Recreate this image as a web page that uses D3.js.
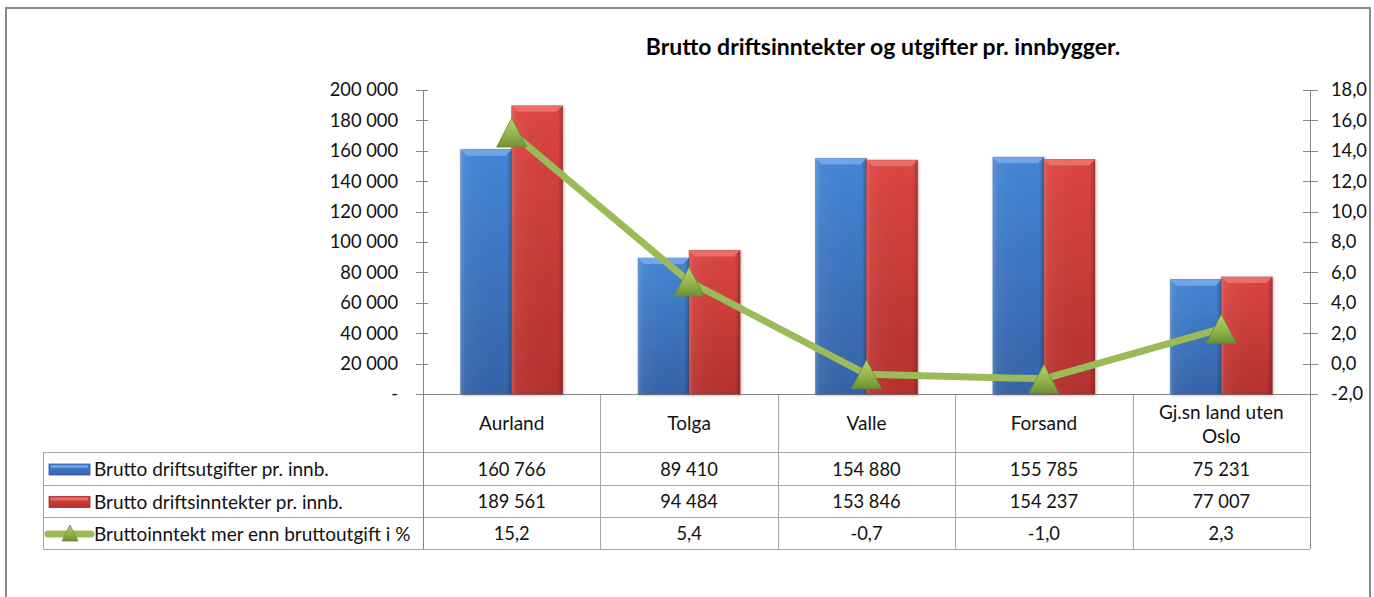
<!DOCTYPE html>
<html><head><meta charset="utf-8">
<script src="https://cdn.jsdelivr.net/npm/d3@7"></script>
<style>
html,body{margin:0;padding:0;background:#fff;}
svg{display:block;}
text{font-family:Lato,"Open Sans",sans-serif;fill:#111;}
</style></head>
<body>
<svg id="c" width="1374" height="597"></svg>
<script>
const title = "Brutto driftsinntekter og utgifter pr. innbygger.";
const categories = ["Aurland", "Tolga", "Valle", "Forsand", "Gj.sn land uten Oslo"];
const seriesNames = ["Brutto driftsutgifter pr. innb.", "Brutto driftsinntekter pr. innb.", "Bruttoinntekt mer enn bruttoutgift i %"];
const utgifter = [160766, 89410, 154880, 155785, 75231];
const inntekter = [189561, 94484, 153846, 154237, 77007];
const prosent = [15.2, 5.4, -0.7, -1.0, 2.3];
const leftTicks = [0, 20000, 40000, 60000, 80000, 100000, 120000, 140000, 160000, 180000, 200000];
const rightTicks = [-2, 0, 2, 4, 6, 8, 10, 12, 14, 16, 18];

const loc = d3.formatLocale({decimal: ",", thousands: " ", grouping: [3], currency: ["", " kr"], minus: "-"});
const fInt = loc.format(",d");
const fDec = loc.format(".1f");

const svg = d3.select("#c");
const plotL = 423, plotR = 1310, plotT = 90, plotB = 394;
const rowLines = [452, 485, 517, 549];
const tableL = 43;
const numSize = "18.3px", txtSize = "19px";

// defs
const defs = svg.append("defs");
function vgrad(id, stops) {
  const g = defs.append("linearGradient").attr("id", id).attr("x1", 0).attr("y1", 0).attr("x2", 0).attr("y2", 1);
  stops.forEach(s => g.append("stop").attr("offset", s[0]).attr("stop-color", s[1]));
}
function hgrad(id, stops) {
  const g = defs.append("linearGradient").attr("id", id).attr("x1", 0).attr("y1", 0).attr("x2", 1).attr("y2", 0);
  stops.forEach(s => g.append("stop").attr("offset", s[0]).attr("stop-color", s[1]).attr("stop-opacity", s[2]));
}
vgrad("gBlue", [[0, "#4385d6"], [1, "#3563a8"]]);
vgrad("gRed", [[0, "#dc4541"], [1, "#b5312e"]]);
hgrad("gEdge", [[0, "#ffffff", 0.18], [0.08, "#ffffff", 0.05], [0.9, "#000000", 0.0], [1, "#000000", 0.22]]);
vgrad("gTri", [[0, "#b3d370"], [0.6, "#8fb24a"], [1, "#6f8f32"]]);
const fl = defs.append("filter").attr("id", "sh").attr("x", "-20%").attr("y", "-10%").attr("width", "140%").attr("height", "130%");
fl.append("feDropShadow").attr("dx", 1).attr("dy", 1).attr("stdDeviation", 1.5).attr("flood-color", "#000").attr("flood-opacity", 0.3);

// frame
svg.append("rect").attr("x", 6).attr("y", 8).attr("width", 1364).attr("height", 620)
  .attr("fill", "none").attr("stroke", "#8a8a8a").attr("stroke-width", 2);

// title
svg.append("text").attr("x", 883).attr("y", 55).attr("text-anchor", "middle")
  .style("font-weight", "bold").style("font-size", "23px").style("fill", "#000").text(title);

// scales
const x0 = d3.scaleBand().domain(categories).range([plotL, plotR]).padding(0);
const x1 = d3.scaleBand().domain([0, 1]).range([0, x0.bandwidth()]).paddingInner(0).paddingOuter(0.74);
const yL = d3.scaleLinear().domain([0, 200000]).range([plotB, plotT]);
const yR = d3.scaleLinear().domain([-2, 18]).range([plotB, plotT]);

const gridC = "#a6a6a6";
const axisC = "#868686";

// table grid
const tg = svg.append("g").attr("stroke", gridC).attr("stroke-width", 1).attr("shape-rendering", "crispEdges");
rowLines.forEach(y => tg.append("line").attr("x1", tableL).attr("x2", plotR).attr("y1", y + 0.5).attr("y2", y + 0.5));
tg.append("line").attr("x1", tableL + 0.5).attr("x2", tableL + 0.5).attr("y1", rowLines[0]).attr("y2", rowLines[3]);
categories.forEach((c, i) => {
  if (i > 0) tg.append("line").attr("x1", Math.round(x0(c)) + 0.5).attr("x2", Math.round(x0(c)) + 0.5).attr("y1", plotB).attr("y2", rowLines[3]);
});

// axes
const ag = svg.append("g").attr("stroke", axisC).attr("stroke-width", 1).attr("shape-rendering", "crispEdges");
ag.append("line").attr("x1", plotL + 0.5).attr("x2", plotL + 0.5).attr("y1", plotT).attr("y2", rowLines[3]);
ag.append("line").attr("x1", plotR + 0.5).attr("x2", plotR + 0.5).attr("y1", plotT).attr("y2", rowLines[3]);
ag.append("line").attr("x1", plotL).attr("x2", plotR).attr("y1", plotB + 0.5).attr("y2", plotB + 0.5);
leftTicks.forEach(t => {
  const y = Math.round(yL(t)) + 0.5;
  ag.append("line").attr("x1", plotL - 7).attr("x2", plotL + 5).attr("y1", y).attr("y2", y);
});
rightTicks.forEach(t => {
  const y = Math.round(yR(t)) + 0.5;
  ag.append("line").attr("x1", plotR - 7).attr("x2", plotR + 8).attr("y1", y).attr("y2", y);
});
svg.append("g").selectAll("text").data(leftTicks).join("text")
  .attr("x", 398).attr("y", d => yL(d)).attr("dy", "0.35em").attr("text-anchor", "end")
  .style("font-size", numSize).text(d => d === 0 ? "-" : fInt(d));
svg.append("g").selectAll("text").data(rightTicks).join("text")
  .attr("x", 1331).attr("y", d => yR(d)).attr("dy", "0.35em").attr("text-anchor", "start")
  .style("font-size", numSize).text(d => fDec(d));

// bars
const series = [utgifter, inntekter];
const grads = ["url(#gBlue)", "url(#gRed)"];
const bevels = ["#79aaea", "#ec7470"];
const strokes = ["#2d5a97", "#9c2a27"];
const bg = svg.append("g");
categories.forEach((c, i) => {
  series.forEach((s, j) => {
    const x = x0(c) + x1(j), w = x1.bandwidth(), y = yL(s[i]), h = plotB - y;
    const g = bg.append("g");
    g.append("rect").attr("x", x).attr("y", y).attr("width", w).attr("height", h)
      .attr("fill", grads[j]).attr("stroke", strokes[j]).attr("stroke-width", 0.8).attr("stroke-opacity", 0.6)
      .attr("filter", "url(#sh)");
    g.append("rect").attr("x", x).attr("y", y).attr("width", w).attr("height", h).attr("fill", "url(#gEdge)");
    const b = 6;
    g.append("path").attr("d", `M${x},${y}L${x + w},${y}L${x + w - b},${y + b}L${x + b},${y + b}Z`)
      .attr("fill", bevels[j]).attr("opacity", 0.85);
  });
});

// line
const cx = c => x0(c) + x0.bandwidth() / 2;
const line = d3.line().x((d, i) => cx(categories[i])).y(d => yR(d));
svg.append("path").datum(prosent).attr("d", line).attr("fill", "none")
  .attr("stroke", "#9bbb59").attr("stroke-width", 7).attr("stroke-linejoin", "round");
function tri(x, y, w, h) {
  return `M${x},${y - h / 2}L${x + w / 2},${y + h / 2}L${x - w / 2},${y + h / 2}Z`;
}
svg.append("g").selectAll("path").data(prosent).join("path")
  .attr("d", (d, i) => tri(cx(categories[i]), yR(d), 30, 29))
  .attr("fill", "url(#gTri)").attr("stroke", "#6a8a33").attr("stroke-width", 0.8);

// category labels
categories.forEach(c => {
  const t = svg.append("text").attr("x", cx(c)).attr("text-anchor", "middle").style("font-size", txtSize);
  if (c === "Gj.sn land uten Oslo") {
    t.append("tspan").attr("x", cx(c)).attr("y", 412).attr("dy", "0.35em").text("Gj.sn land uten");
    t.append("tspan").attr("x", cx(c)).attr("y", 436).attr("dy", "0.35em").text("Oslo");
  } else {
    t.attr("y", 423).attr("dy", "0.35em").text(c);
  }
});

// table values
const rows = [utgifter.map(fInt), inntekter.map(fInt), prosent.map(fDec)];
rows.forEach((r, ri) => {
  const yc = (rowLines[ri] + rowLines[ri + 1]) / 2 + 1;
  categories.forEach((c, i) => {
    svg.append("text").attr("x", cx(c)).attr("y", yc).attr("dy", "0.35em").attr("text-anchor", "middle")
      .style("font-size", numSize).text(r[i]);
  });
  svg.append("text").attr("x", 94).attr("y", yc).attr("dy", "0.35em").attr("text-anchor", "start")
    .style("font-size", txtSize).text(seriesNames[ri]);
});

// legend keys
[0, 1].forEach(j => {
  const yc = (rowLines[j] + rowLines[j + 1]) / 2 + 1;
  const x = 49, w = 41, h = 11, y = yc - h / 2;
  svg.append("rect").attr("x", x).attr("y", y).attr("width", w).attr("height", h)
    .attr("fill", grads[j]).attr("stroke", strokes[j]).attr("stroke-width", 0.8);
  svg.append("rect").attr("x", x + 2).attr("y", y + 1).attr("width", w - 4).attr("height", 3).attr("fill", bevels[j]).attr("opacity", 0.8);
});
{
  const yc = (rowLines[2] + rowLines[3]) / 2 + 1;
  svg.append("line").attr("x1", 48).attr("x2", 91).attr("y1", yc).attr("y2", yc)
    .attr("stroke", "#9bbb59").attr("stroke-width", 7).attr("stroke-linecap", "round");
  svg.append("path").attr("d", tri(70, yc - 1, 16, 16)).attr("fill", "url(#gTri)").attr("stroke", "#6a8a33").attr("stroke-width", 0.8);
}
</script>
</body></html>
